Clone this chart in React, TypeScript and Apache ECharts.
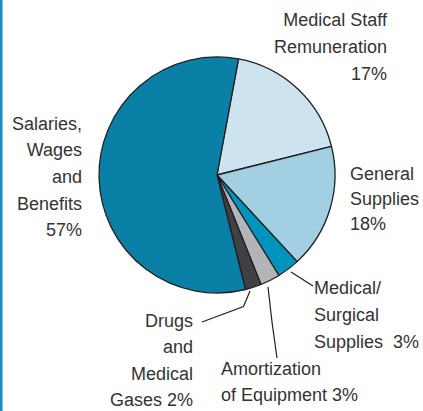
import React, { useEffect, useRef } from "react";
import * as echarts from "echarts";

// Slice order, clockwise from just right of 12 o'clock
const categories = [
  "Medical Staff\nRemuneration",
  "General\nSupplies",
  "Medical/\nSurgical\nSupplies",
  "Amortization\nof Equipment",
  "Drugs\nand\nMedical\nGases",
  "Salaries,\nWages\nand\nBenefits",
];
// Shares as drawn in the picture (angles measured)
const shares = [18.2, 17.0, 3.1, 2.7, 2.2, 56.8];
// Percent labels as printed
const pctLabels = ["17%", "18%", "3%", "3%", "2%", "57%"];
const pctSeparators = ["\n", "\n", "  ", " ", " ", "\n"];
const colors = ["#cde4f0", "#a2cfe2", "#0094bc", "#b2b4b7", "#3f4144", "#0a80a7"];

export default function App() {
  const ref = useRef<HTMLDivElement>(null);
  useEffect(() => {
    document.body.style.margin = "0";
    const chart = echarts.init(ref.current!, null, { renderer: "svg" });
    const font = '"Liberation Sans", Arial, sans-serif';
    const layouts: any[] = [
      { x: 387, y: 7, align: "right", lh: 26.6 },
      { x: 350, y: 161, align: "left", lh: 25 },
      { x: 314, y: 275, align: "left", lh: 26.6, line: [[291, 272], [302, 279], [313, 286]] },
      { x: 221, y: 356, align: "left", lh: 26, line: [[268, 287], [272, 322], [277, 358]] },
      { x: 193, y: 308, align: "right", lh: 26.3, line: [[250, 291], [243.5, 306.5], [202, 322]] },
      { x: 82, y: 110.5, align: "right", lh: 26.6 },
    ];
    chart.setOption({
      animation: false,
      graphic: [
        { type: "rect", shape: { x: 0, y: 0, width: 2.5, height: 411 }, style: { fill: "#1b8cbd" } },
      ],
      series: [
        {
          type: "pie",
          center: [217, 175],
          radius: [0, 118],
          startAngle: 79.5,
          clockwise: true,
          avoidLabelOverlap: false,
          itemStyle: { borderColor: "#231f20", borderWidth: 1.3 },
          label: {
            show: true,
            position: "outside",
            fontFamily: font,
            fontSize: 18,
            color: "#333",
          },
          labelLine: { show: true, lineStyle: { color: "#231f20", width: 1.2 } },
          emphasis: { disabled: true },
          labelLayout: (params: any) => {
            const l = layouts[params.dataIndex];
            const out: any = {
              x: l.x,
              y: l.y,
              align: l.align,
              verticalAlign: "top",
            };
            if (l.line) out.labelLinePoints = l.line;
            return out;
          },
          data: categories.map((c, i) => ({
            name: c,
            value: shares[i],
            itemStyle: { color: colors[i] },
            label: {
              formatter: c + pctSeparators[i] + pctLabels[i],
              lineHeight: layouts[i].lh,
              align: layouts[i].align,
            },
            labelLine: { show: !!layouts[i].line },
          })),
        },
      ],
    });
    return () => chart.dispose();
  }, []);
  return <div ref={ref} style={{ width: 423, height: 411 }} />;
}
